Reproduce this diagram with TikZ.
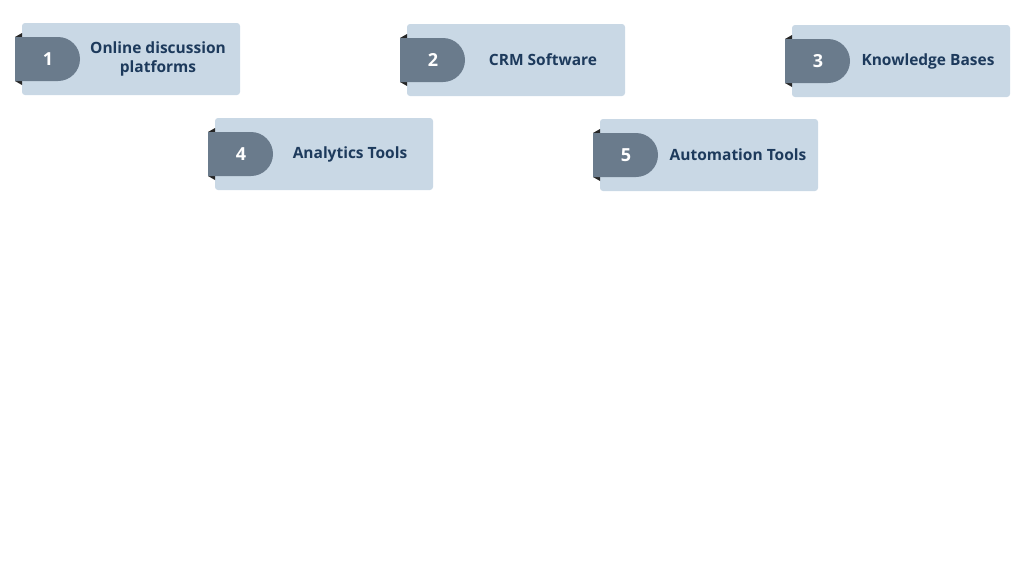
\documentclass[tikz,border=0pt]{standalone}
\usepackage{fontspec}
\setmainfont{Open Sans}
\definecolor{cardbg}{HTML}{C9D8E5}
\definecolor{tabc}{HTML}{6A7B8C}
\definecolor{txt}{HTML}{1D3A5C}
\begin{document}
\begin{tikzpicture}[x=1pt,y=-1pt,
  card/.style={fill=cardbg,rounded corners=3pt},
  tab/.style={fill=tabc},
  num/.style={text=white,font=\bfseries\fontsize{18}{21}\selectfont},
  lab/.style={text=txt,font=\bfseries\fontsize{15.5}{19}\selectfont,align=center}]
\useasboundingbox (0,0) rectangle (1024,576);
\newcommand\mycard[6]{%
  \fill[card] (#2,#3) rectangle ++(218,72);
  \fill[black!85] (#2-7,#3+14) -- (#2,#3+10) -- (#2,#3+14) -- cycle;
  \fill[black!85] (#2-7,#3+58) -- (#2,#3+62) -- (#2,#3+58) -- cycle;
  \fill[tab] (#2-7,#3+14) -- (#2+36,#3+14) arc[start angle=-90,end angle=90,radius=22] -- (#2-7,#3+58) -- cycle;
  \node[num] (#1n) at (#2+26,#3+36) {#4};
  \node[lab] (#1t) at (#6,#3+36) {#5};
}
\mycard{a}{22}{23}{1}{Online discussion\\platforms}{158}
\mycard{b}{407}{24}{2}{CRM Software}{543}
\mycard{c}{792}{25}{3}{Knowledge Bases}{928}
\mycard{d}{215}{118}{4}{Analytics Tools}{350}
\mycard{e}{600}{119}{5}{Automation Tools}{738}
\end{tikzpicture}
\end{document}
